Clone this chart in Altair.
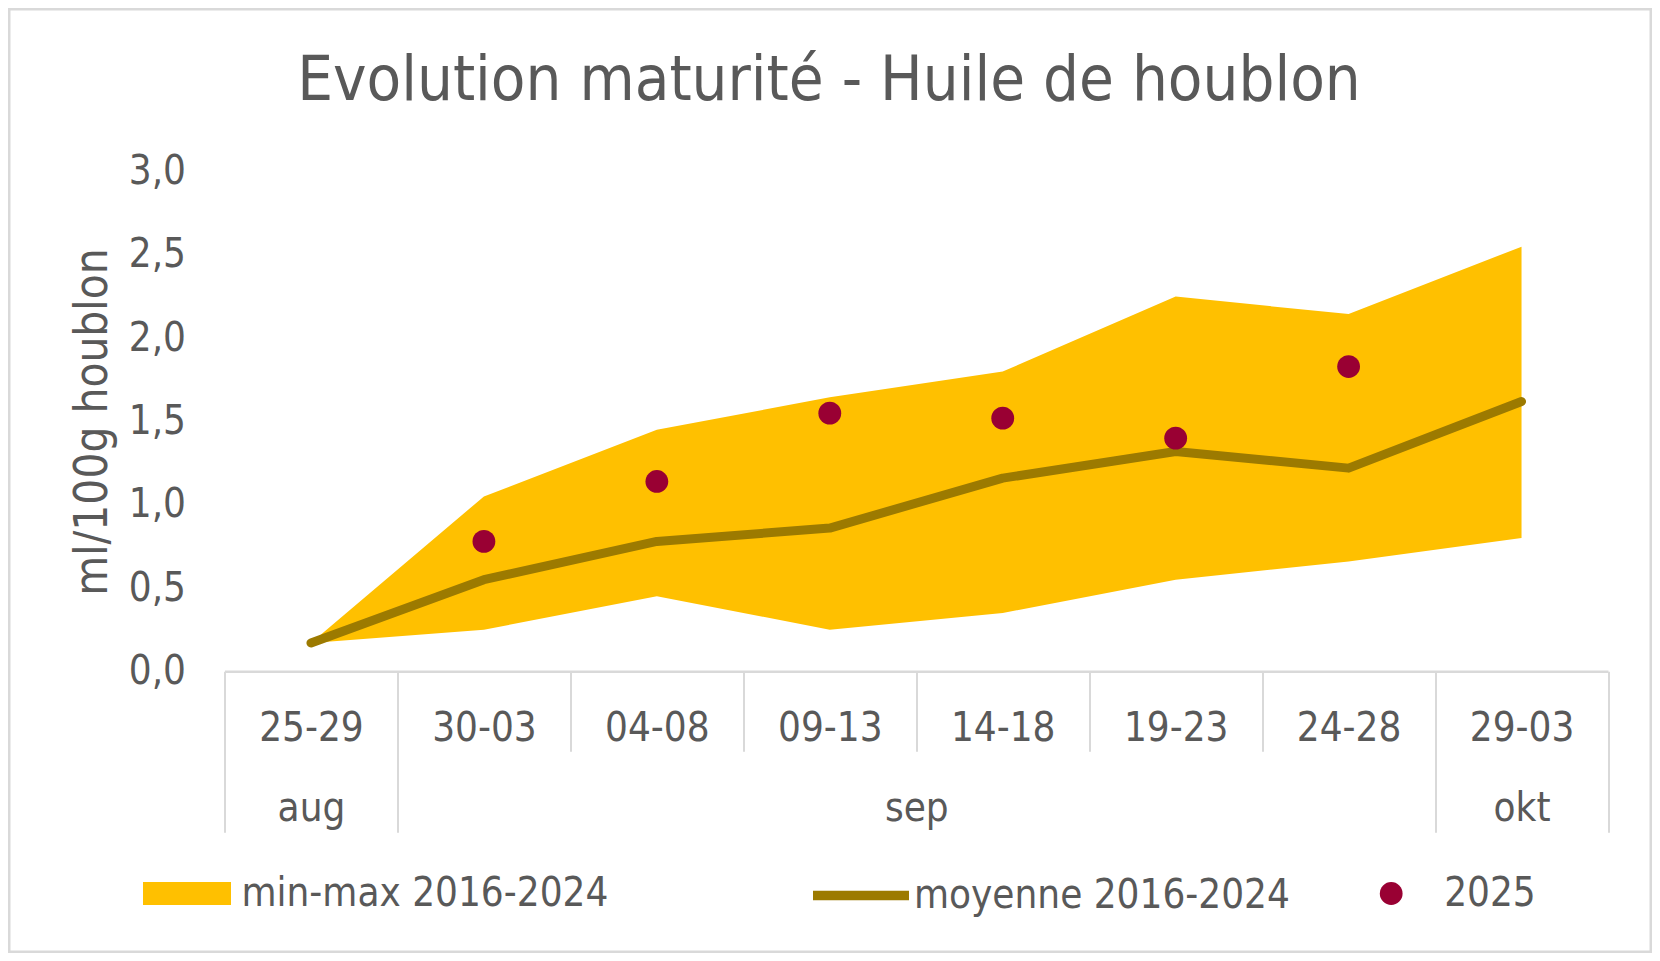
import json
import altair as alt
import pandas as pd

# ---- data ----
weeks = ["25-29", "30-03", "04-08", "09-13", "14-18", "19-23", "24-28", "29-03"]
months = ["aug", "sep", "sep", "sep", "sep", "sep", "sep", "okt"]
min_vals = [0.17, 0.25, 0.45, 0.25, 0.35, 0.55, 0.66, 0.80]
max_vals = [0.17, 1.05, 1.45, 1.645, 1.80, 2.25, 2.145, 2.55]
mean_vals = [0.17, 0.55, 0.78, 0.86, 1.16, 1.32, 1.22, 1.62]
vals_2025 = [None, 0.78, 1.14, 1.55, 1.52, 1.40, 1.83, None]
y_ticks = [0.0, 0.5, 1.0, 1.5, 2.0, 2.5, 3.0]

label_area = "min-max 2016-2024"
label_mean = "moyenne 2016-2024"
label_2025 = "2025"
title_text = "Evolution maturité - Huile de houblon"
y_title = "ml/100g houblon"

# ---- styling ----
FONT = "'DejaVu Sans Condensed', 'Liberation Sans Narrow', sans-serif"
TXT = "#595959"
GRID = "#d9d9d9"
C_AREA = "#FFC000"
C_MEAN = "#9C7A00"
C_2025 = "#990033"

W, H = 1383.5, 499.6
PL, PT, PR, PB = 216.5, 163.7, 44, 281.7
OX, OY = 8 + PL, 8 + PT  # page position of the plot origin

n = len(weeks)
df = pd.DataFrame({
    "idx": list(range(n)),
    "week": weeks,
    "month": months,
    "min": min_vals,
    "max": max_vals,
    "mean": mean_vals,
    "v2025": vals_2025,
})
df["s_area"] = label_area
df["s_mean"] = label_mean
df_pts = df.dropna(subset=["v2025"]).copy()
df_pts["s_pt"] = label_2025

# month groups -> label centres and long separators
groups = []
for i, m in enumerate(months):
    if groups and groups[-1][0] == m:
        groups[-1][2] = i
    else:
        groups.append([m, i, i])
month_names = [g[0] for g in groups]
month_centers = [(g[1] + g[2]) / 2 for g in groups]
long_bounds = sorted(set([g[1] - 0.5 for g in groups] + [g[2] + 0.5 for g in groups]))
all_bounds = [i - 0.5 for i in range(n + 1)]

xscale = alt.Scale(domain=[-0.5, n - 0.5], nice=False, zero=False)

axis_ticks = alt.Axis(
    orient="bottom", values=all_bounds, labels=False, title=None, grid=False,
    domain=True, domainColor=GRID, domainWidth=2.5,
    ticks=True, tickColor=GRID, tickWidth=2,
    tickSize={"condition": {"test": f"indexof({json.dumps(long_bounds)}, datum.value) >= 0", "value": 161}, "value": 80},
)
axis_weeks = alt.Axis(
    orient="bottom", values=list(range(n)), title=None, grid=False, domain=False,
    ticks=False, tickSize=0, labelPadding=57, labelBaseline="middle",
    labelFont=FONT, labelFontSize=40, labelColor=TXT, labelFlush=False, labelOverlap=False,
    labelExpr=f"{json.dumps(weeks)}[round(datum.value)]",
)
axis_months = alt.Axis(
    orient="bottom", values=month_centers, title=None, grid=False, domain=False,
    ticks=False, tickSize=0, labelPadding=137, labelBaseline="middle",
    labelFont=FONT, labelFontSize=40, labelColor=TXT, labelFlush=False, labelOverlap=False,
    labelExpr=f"{json.dumps(month_names)}[indexof({json.dumps(month_centers)}, datum.value)]",
)

yscale = alt.Scale(domain=[0, 3], nice=False, zero=True)
axis_y = alt.Axis(
    values=y_ticks, grid=False, domain=False, ticks=False, labelPadding=39,
    labelFont=FONT, labelFontSize=40, labelColor=TXT,
    labelExpr="replace(format(datum.value, '.1f'), '.', ',')",
    title=y_title, titleFont=FONT, titleFontSize=45.5, titleColor=TXT, titleFontWeight="normal",
    titleAngle=270, titleX=92 - OX, titleY=H / 2, titleAlign="center", titleBaseline="middle",
)

def legend(x, y, **kw):
    return alt.Legend(orient="none", legendX=x, legendY=y, title=None, padding=0,
                      labelFont=FONT, labelFontSize=40, labelColor=TXT, labelLimit=1000,
                      symbolOpacity=1, **kw)

border = alt.Chart(alt.Data(values=[{"b": 1}])).mark_rect(
    fill="white", fillOpacity=0, stroke=GRID, strokeWidth=2.5
).encode(
    x=alt.value(-PL + 1.25), x2=alt.value(W + PR - 1.25),
    y=alt.value(-PT + 1.25), y2=alt.value(H + PB - 1.25),
)

title = alt.Chart(alt.Data(values=[{"t": title_text}])).mark_text(
    font=FONT, fontSize=63, color=TXT, align="center", baseline="alphabetic"
).encode(
    text="t:N", x=alt.value(829 - OX), y=alt.value(100 - OY),
)

area = alt.Chart(df).mark_area(opacity=1).encode(
    x=alt.X("idx:Q", scale=xscale, axis=axis_ticks),
    y=alt.Y("min:Q", scale=yscale, axis=axis_y),
    y2="max:Q",
    fill=alt.Fill("s_area:N", scale=alt.Scale(domain=[label_area], range=[C_AREA]),
                  legend=legend(143 - OX, 893.5 - OY - 44,
                                symbolType="M-1,-0.26H1V0.26H-1Z", symbolSize=7744,
                                symbolStrokeWidth=0, labelOffset=10.5)),
)

line = alt.Chart(df).mark_line(strokeWidth=9, strokeCap="round", strokeJoin="round").encode(
    x=alt.X("idx:Q", scale=xscale, axis=axis_weeks),
    y=alt.Y("mean:Q", scale=yscale, axis=axis_y),
    stroke=alt.Stroke("s_mean:N", scale=alt.Scale(domain=[label_mean], range=[C_MEAN]),
                      legend=legend(808 - OX, 893.5 - OY - 51,
                                    symbolType="M-1,0H1", symbolSize=9216,
                                    symbolStrokeWidth=9.5, labelOffset=0)),
)

points = alt.Chart(df_pts).mark_point(filled=True, color=C_2025, size=520, opacity=1).encode(
    x=alt.X("idx:Q", scale=xscale, axis=axis_months),
    y=alt.Y("v2025:Q", scale=yscale, axis=axis_y),
    shape=alt.Shape("s_pt:N", scale=alt.Scale(domain=[label_2025], range=["circle"]),
                    legend=legend(1390 - 18.8 - OX, 893.5 - OY - 20,
                                  symbolSize=520, symbolFillColor=C_2025,
                                  symbolStrokeColor=C_2025, symbolStrokeWidth=0,
                                  labelOffset=33)),
)

chart = alt.layer(border, title, area, line, points).resolve_axis(x="independent").resolve_legend(
    fill="independent", stroke="independent", shape="independent"
).properties(
    width=W, height=H,
    autosize=alt.AutoSizeParams(type="none"),
    padding={"left": PL, "top": PT, "right": PR, "bottom": PB},
    background="white",
).configure_view(strokeWidth=0)

chart.save("out.html", embed_options={"renderer": "svg", "actions": False})
